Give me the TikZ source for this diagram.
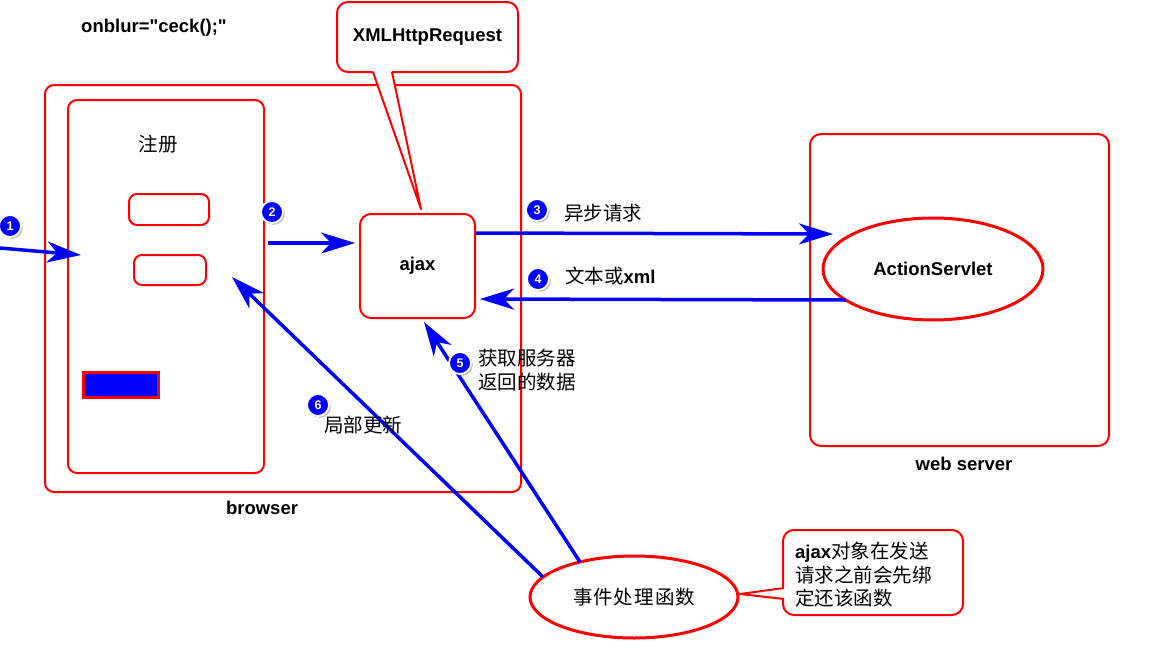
\documentclass[tikz,border=0pt]{standalone}
\usepackage{fontspec}
\setmainfont{Liberation Sans}[Ligatures=TeXOff]
\newfontfamily\cjk{Noto Sans CJK SC}
\usetikzlibrary{arrows.meta,shapes.geometric,shadows}
\newcommand\zhtxt{\cjk\fontsize{19.5}{23.5}\selectfont}
\newcommand\labtxt{\rmfamily\bfseries\fontsize{18.5}{22}\selectfont}
\begin{document}
\begin{tikzpicture}[x=1pt,y=-1pt,
  redbox/.style={draw=red, line width=2pt, rounded corners=9pt, inner sep=0pt},
  oval/.style={ellipse, draw=red, line width=3pt, inner sep=0pt, fill=white},
  latin/.style={font=\labtxt},
  zh/.style={font=\zhtxt},
  flow/.style={draw=blue, line width=3.5pt, -{Stealth[length=34pt,width=21pt,inset=10pt]}},
  badge/.style={circle, fill=blue, draw=white, line width=1.8pt, minimum size=22pt, inner sep=0pt,
    text=white, font=\rmfamily\bfseries\fontsize{12.5}{13}\selectfont,
    drop shadow={shadow xshift=1.8pt, shadow yshift=-1.8pt, opacity=0.5}},
  plain/.style={inner sep=0pt}
]
\useasboundingbox (0,0) rectangle (1156,664);
\fill[white] (0,0) rectangle (1156,664);

% top label
\node[latin, plain] (onblur) at (154,28) {onblur="ceck();"};

% browser
\node[redbox, minimum width=476pt, minimum height=407pt] (browser) at (283,288.5) {};
\node[latin, plain] (browserlbl) at (262,508) {browser};
\node[redbox, minimum width=196pt, minimum height=373pt] (form) at (166,286.5) {};
\node[zh, plain] (reg) at (158,144) {注册};
\node[redbox, minimum width=80pt, minimum height=31pt, rounded corners=8pt] (field1) at (169,209.5) {};
\node[redbox, minimum width=72pt, minimum height=30pt, rounded corners=8pt] (field2) at (170,270) {};
\node[draw=red, fill=blue, line width=3pt, minimum width=75pt, minimum height=25pt, inner sep=0pt] (btn) at (120.5,384.5) {};

% ajax
\node[redbox, minimum width=115pt, minimum height=104pt, rounded corners=11pt, latin] (ajax) at (417.5,266) {ajax};

% XMLHttpRequest callout
\node[redbox, minimum width=181pt, minimum height=70pt, rounded corners=11pt, fill=white, latin] (xhr) at (427.5,37) {XMLHttpRequest};
\coordinate (xhrL) at (373,72);
\coordinate (xhrR) at (392,72);
\coordinate (xhrT) at (421,209);
\fill[white] (371.6,68) -- (xhrT) -- (391.15,68) -- cycle;
\draw[red, line width=2pt, line join=round] (xhrL) -- (xhrT) -- (xhrR);

% web server
\node[redbox, minimum width=299pt, minimum height=312pt, rounded corners=11pt] (server) at (959.5,290) {};
\node[latin, plain] (serverlbl) at (964,464) {web server};
\node[oval, minimum width=220pt, minimum height=102pt, latin] (servlet) at (933,269) {ActionServlet};

% handler
\node[oval, minimum width=208pt, minimum height=82pt, zh] (handler) at (634,597) {事\hspace{1pt}件\hspace{1pt}处\hspace{1pt}理\hspace{1pt}函\hspace{1pt}数};

% note callout
\node[redbox, minimum width=180pt, minimum height=85pt, rounded corners=11pt, fill=white] (note) at (873,572.5) {};
\node[plain, anchor=west, align=left, font=\zhtxt] (notetxt) at (795,575)
  {{\labtxt ajax}对象在发送\\请求之前会先绑\\定还该函数};
\coordinate (noteU) at (784,588);
\coordinate (noteD) at (784,599);
\coordinate (noteT) at (740,594);
\fill[white] (787,587.6) -- (noteT) -- (787,599.3) -- cycle;
\draw[red, line width=2pt, line join=round] (noteU) -- (noteT) -- (noteD);

% arrows
\coordinate (a1s) at (0,248);
\coordinate (a1e) at (81,255);
\coordinate (y2) at (0,243);
\coordinate (a3e) at (833,234);
\coordinate (y3) at (0,233);
\coordinate (a4s) at (846,300);
\coordinate (a4e) at (480,299);
\coordinate (a5s) at (580,562);
\coordinate (a5e) at (424,322);
\coordinate (a6s) at (543,577);
\coordinate (a6e) at (232,277);

\draw[flow] (a1s) -- (a1e);
\draw[flow, shorten <=3pt, shorten >=4pt] (form.east |- y2) -- (ajax.west |- y2);
\draw[flow] (ajax.east |- y3) -- (a3e);
\draw[flow] (a4s) -- (a4e);
\draw[flow] (a5s) -- (a5e);
\draw[flow] (a6s) -- (a6e);

% labels
\node[zh, plain] (l3) at (603,213) {异步请求};
\node[plain, anchor=west] (l4) at (565,276) {{\zhtxt 文本或}{\labtxt xml}};
\node[zh, plain, anchor=west, align=left] (l5) at (478,370) {获取服务器\\返回的数据};
\node[zh, plain] (l6) at (363,425) {局部更新};

% badges
\node[badge] (b1) at (10,226) {1};
\node[badge] (b2) at (272,212) {2};
\node[badge] (b3) at (537,210) {3};
\node[badge] (b4) at (538,279) {4};
\node[badge] (b5) at (460,363) {5};
\node[badge] (b6) at (318,405) {6};
\end{tikzpicture}
\end{document}
